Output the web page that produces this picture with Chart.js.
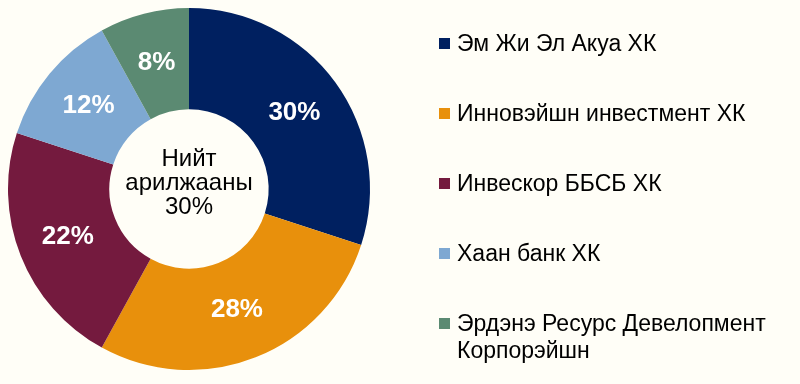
<!DOCTYPE html>
<html lang="mn">
<head>
  <meta charset="UTF-8" />
  <title>Арилжааны бүтэц</title>
  <script src="https://cdn.jsdelivr.net/npm/chart.js"></script>
  <style>
    html, body { margin: 0; padding: 0; background: #fffef7; }
    .wrap { position: relative; width: 800px; height: 384px; }
    canvas { position: absolute; left: 0; top: 0; }
    .legend { position: absolute; left: 439px; top: 30px; font-family: "Liberation Sans", Arial, sans-serif; font-size: 23px; color: #000; }
    .item { position: relative; height: 70px; padding-left: 18px; line-height: 27px; }
    .item span.box { position: absolute; left: 0; top: 8px; width: 11px; height: 11px; }
  </style>
</head>
<body>
  <div class="wrap">
    <canvas id="pie" width="800" height="384"></canvas>
    <div class="legend" id="legend"></div>
  </div>

  <script>
    const labels = ['Эм Жи Эл Акуа ХК', 'Инновэйшн инвестмент ХК', 'Инвескор ББСБ ХК', 'Хаан банк ХК', 'Эрдэнэ Ресурс Девелопмент Корпорэйшн'];
    const shares = [30, 28, 22, 12, 8];
    const colors = ['#002060', '#e8900c', '#741a3e', '#7ea8d2', '#5b8a72'];
    const centerLines = ['Нийт', 'арилжааны', '30%'];

    // html legend
    const legend = document.getElementById('legend');
    labels.forEach((l, i) => {
      const d = document.createElement('div');
      d.className = 'item';
      const txt = i === 4 ? 'Эрдэнэ Ресурс Девелопмент<br>Корпорэйшн' : l;
      d.innerHTML = `<span class="box" style="background:${colors[i]}"></span>${txt}`;
      legend.appendChild(d);
    });

    const sliceLabels = {
      id: 'sliceLabels',
      afterDatasetsDraw(chart) {
        const ctx = chart.ctx;
        const meta = chart.getDatasetMeta(0);
        ctx.save();
        ctx.fillStyle = '#fff';
        ctx.font = 'bold 26px "Liberation Sans", Arial, sans-serif';
        ctx.textAlign = 'center';
        ctx.textBaseline = 'middle';
        meta.data.forEach((arc, i) => {
          const p = arc.tooltipPosition();
          ctx.fillText(shares[i] + '%', p.x, p.y);
        });
        // center text
        const cx = meta.data[0].x, cy = meta.data[0].y;
        ctx.fillStyle = '#000';
        ctx.font = '24px "Liberation Sans", Arial, sans-serif';
        centerLines.forEach((t, i) => {
          ctx.fillText(t, cx, cy - 30 + i * 24);
        });
        ctx.restore();
      }
    };

    new Chart(document.getElementById('pie'), {
      type: 'doughnut',
      data: {
        labels: labels,
        datasets: [{
          data: shares,
          backgroundColor: colors,
          borderWidth: 0
        }]
      },
      options: {
        responsive: false,
        animation: false,
        cutout: '44%',
        layout: { padding: { left: 8, top: 8, bottom: 14, right: 430 } },
        plugins: {
          legend: { display: false },
          tooltip: { enabled: false }
        }
      },
      plugins: [sliceLabels]
    });
  </script>
</body>
</html>
